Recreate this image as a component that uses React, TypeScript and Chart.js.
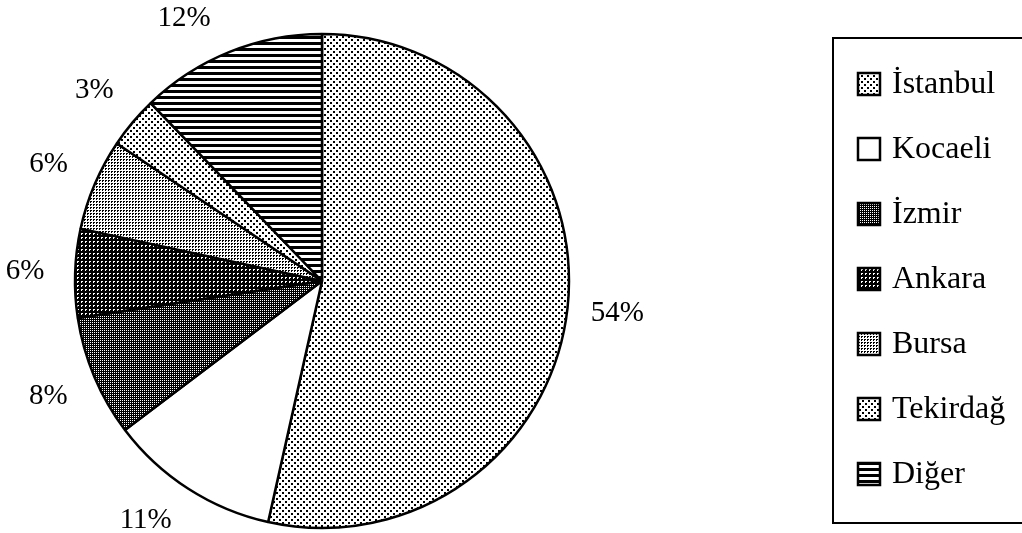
import React, { useEffect, useRef } from "react";
import { Chart, registerables } from "chart.js";

Chart.register(...registerables);

// ---- data ----
const categories = ["İstanbul", "Kocaeli", "İzmir", "Ankara", "Bursa", "Tekirdağ", "Diğer"];
const shares = [53.5, 11.2, 7.9, 5.8, 6.0, 3.4, 12.2];
const pctLabels = ["54%", "11%", "8%", "6%", "6%", "3%", "12%"];
const patternKinds = ["sparseDots", "white", "mesh", "darkGrid", "denseDots", "sparseDots2", "hStripes"];

function makeFill(ctx: CanvasRenderingContext2D, kind: string): CanvasPattern | string {
  if (kind === "white") return "#ffffff";
  const t = document.createElement("canvas");
  const g = t.getContext("2d")!;
  const px = (x: number, y: number, w = 1, h = 1) => g.fillRect(x, y, w, h);
  if (kind === "sparseDots" || kind === "sparseDots2") {
    t.width = 6; t.height = 6;
    g.fillStyle = "#fff"; g.fillRect(0, 0, 6, 6);
    g.fillStyle = "#000";
    if (kind === "sparseDots") { px(0, 0, 2, 2); px(3, 3, 2, 2); }
    else { px(1, 1, 2, 2); px(4, 4, 2, 2); }
  } else if (kind === "mesh") {
    t.width = 2; t.height = 2;
    g.fillStyle = "#000"; g.fillRect(0, 0, 2, 2);
    g.fillStyle = "#fff";
    px(0, 0);
  } else if (kind === "darkGrid") {
    t.width = 4; t.height = 4;
    g.fillStyle = "#000"; g.fillRect(0, 0, 4, 4);
    g.fillStyle = "#fff";
    px(1, 1); px(2, 1); px(1, 2);
  } else if (kind === "denseDots") {
    t.width = 3; t.height = 3;
    g.fillStyle = "#fff"; g.fillRect(0, 0, 3, 3);
    g.fillStyle = "#000";
    px(0, 0, 2, 1); px(0, 1);
  } else if (kind === "hStripes") {
    t.width = 6; t.height = 6;
    g.fillStyle = "#fff"; g.fillRect(0, 0, 6, 6);
    g.fillStyle = "#000"; g.fillRect(0, 0, 6, 3);
  }
  return ctx.createPattern(t, "repeat") || "#ccc";
}

export default function App() {
  const ref = useRef<HTMLCanvasElement>(null);

  useEffect(() => {
    const canvas = ref.current!;
    const ctx = canvas.getContext("2d")!;
    const fills = patternKinds.map((k) => makeFill(ctx, k));

    const labelPlugin = {
      id: "pctLabels",
      afterDatasetsDraw(chart: any) {
        const c = chart.ctx as CanvasRenderingContext2D;
        const meta = chart.getDatasetMeta(0);
        c.save();
        c.font = "29px 'Liberation Serif', 'Times New Roman', serif";
        c.fillStyle = "#000";
        c.textAlign = "center";
        c.textBaseline = "middle";
        meta.data.forEach((arc: any, i: number) => {
          const p = arc.getProps(["x", "y", "startAngle", "endAngle", "outerRadius"], true);
          const R = p.outerRadius + 50;
          const a = (p.startAngle + p.endAngle) / 2;
          let lx = p.x + R * Math.cos(a);
          let ly = p.y + R * Math.sin(a);
          const minY = 18;
          const maxY = chart.height - 13;
          if (ly < minY || ly > maxY) {
            const ty = ly < minY ? minY : maxY;
            const s = (ty - p.y) / R;
            const cx = Math.sign(Math.cos(a)) * Math.sqrt(Math.max(0, 1 - s * s));
            lx = p.x + R * cx;
            ly = ty;
          }
          c.fillText(pctLabels[i], lx, ly);
        });
        c.restore();
      },
    };

    const legendPlugin = {
      id: "boxLegend",
      afterDraw(chart: any) {
        const c = chart.ctx as CanvasRenderingContext2D;
        const ds = chart.data.datasets[0];
        const labels = chart.data.labels as string[];
        const left = 833, top = 38, bottom = 523;
        c.save();
        c.strokeStyle = "#000";
        c.lineWidth = 2;
        c.strokeRect(left, top, chart.width + 20 - left, bottom - top);
        c.font = "32px 'Liberation Serif', 'Times New Roman', serif";
        c.textAlign = "left";
        c.textBaseline = "middle";
        const step = 65;
        labels.forEach((lab, i) => {
          const cy = 84 + i * step;
          c.fillStyle = ds.backgroundColor[i];
          c.fillRect(858, cy - 11, 22, 22);
          c.lineWidth = 2.5;
          c.strokeRect(858, cy - 11, 22, 22);
          c.fillStyle = "#000";
          c.fillText(lab, 892, cy + 1);
        });
        c.restore();
      },
    };

    const chart = new Chart(canvas, {
      type: "pie",
      data: {
        labels: categories,
        datasets: [
          {
            data: shares,
            backgroundColor: fills as any,
            borderColor: "#000",
            borderWidth: 2.5,
          },
        ],
      },
      options: {
        responsive: false,
        animation: false,
        radius: 247,
        layout: { padding: { left: 72, right: 450, top: 34, bottom: 5 } },
        plugins: {
          legend: { display: false },
          tooltip: { enabled: false },
        },
      } as any,
      plugins: [labelPlugin, legendPlugin],
    });
    return () => chart.destroy();
  }, []);

  return (
    <div style={{ position: "absolute", left: 0, top: 0, width: 1022, height: 533, background: "#fff" }}>
      <canvas ref={ref} width={1022} height={533} style={{ display: "block" }} />
    </div>
  );
}
